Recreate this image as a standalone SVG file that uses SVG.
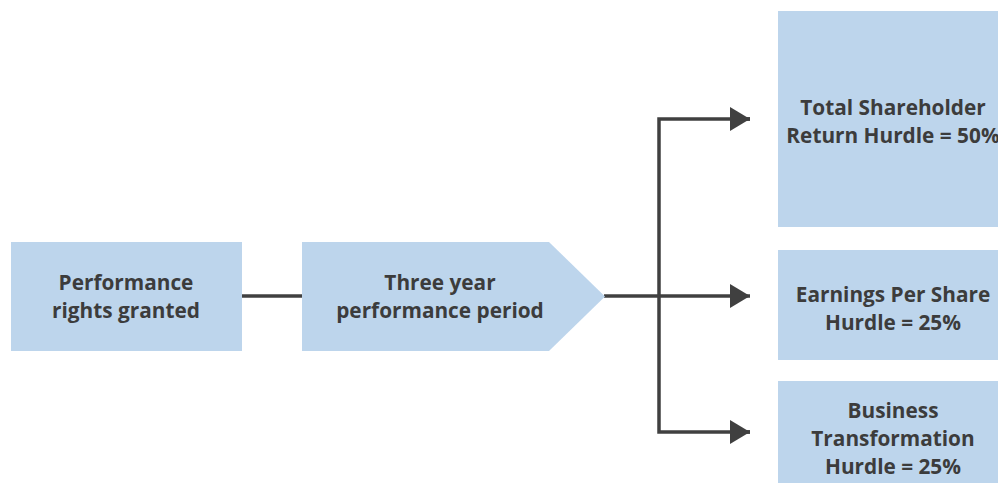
<svg xmlns="http://www.w3.org/2000/svg" width="998" height="483" viewBox="0 0 998 483">
<defs>
<style>
.box{fill:#bdd5ec;}
.t{font-family:"Open Sans","Liberation Sans",sans-serif;font-weight:700;font-size:20.8px;fill:#3c3c3c;text-anchor:middle;}
.ln{stroke:#404040;stroke-width:3.5;fill:none;}
</style>
<marker id="ah" markerWidth="20" markerHeight="24" refX="20" refY="12" orient="auto" markerUnits="userSpaceOnUse">
<path d="M0,0 L20,12 L0,24 Z" fill="#404040"/>
</marker>
</defs>
<rect width="998" height="483" fill="#ffffff"/>
<g id="connectors">
<line class="ln" x1="242" y1="296" x2="302" y2="296"/>
<line class="ln" x1="604" y1="296" x2="750" y2="296" marker-end="url(#ah)"/>
<polyline class="ln" points="750,119 659,119 659,432 750,432"/>
<line class="ln" x1="740" y1="119" x2="750" y2="119" marker-end="url(#ah)"/>
<line class="ln" x1="740" y1="432" x2="750" y2="432" marker-end="url(#ah)"/>
</g>
<g id="n1">
<rect class="box" x="11" y="242" width="231" height="109"/>
<text class="t" x="126" y="290">Performance</text>
<text class="t" x="126" y="318">rights granted</text>
</g>
<g id="n2">
<polygon class="box" points="302,242 549,242 605,296.5 549,351 302,351"/>
<text class="t" x="440" y="290">Three year</text>
<text class="t" x="440" y="318">performance period</text>
</g>
<g id="n3">
<rect class="box" x="778" y="11" width="232" height="216"/>
<text class="t" x="893" y="115">Total Shareholder</text>
<text class="t" x="893" y="143">Return Hurdle = 50%</text>
</g>
<g id="n4">
<rect class="box" x="778" y="250" width="232" height="110"/>
<text class="t" x="893" y="302">Earnings Per Share</text>
<text class="t" x="893" y="330">Hurdle = 25%</text>
</g>
<g id="n5">
<rect class="box" x="778" y="381" width="232" height="110"/>
<text class="t" x="893" y="418">Business</text>
<text class="t" x="893" y="446">Transformation</text>
<text class="t" x="893" y="474">Hurdle = 25%</text>
</g>
</svg>
